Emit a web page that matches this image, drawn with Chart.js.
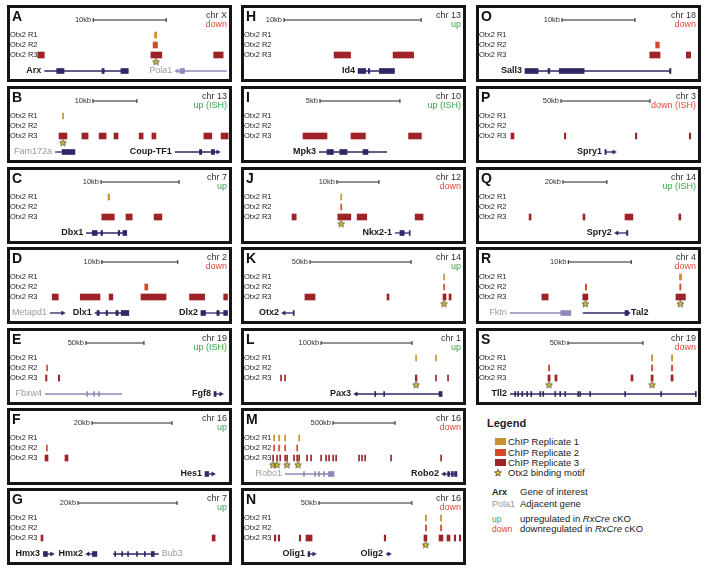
<!DOCTYPE html>
<html>
<head>
<meta charset="utf-8">
<script src="https://cdn.jsdelivr.net/npm/chart.js@4.4.1/dist/chart.umd.min.js"></script>
<style>
  body { margin: 0; background: #fff; width: 708px; height: 573px; position: relative; overflow: hidden;
         font-family: 'Liberation Sans', Arial, sans-serif; }
  .panel { position: absolute; width: 225px; height: 77px; border: 3px solid #151515; box-sizing: border-box; }
  .panel canvas { display: block; }
  .lg { position: absolute; white-space: nowrap; font-size: 9.5px; line-height: 12px; color: #222; }
  .sw { position: absolute; width: 11px; height: 7px; }
</style>
</head>
<body>

<div class="lg" style="left:487px;top:416px;font-size:11px;font-weight:bold;line-height:14px">Legend</div>
<div class="sw" style="left:495px;top:438px;background:#c8922e"></div>
<div class="lg" style="left:508px;top:436px">ChIP Replicate 1</div>
<div class="sw" style="left:495px;top:449px;background:#d4482b"></div>
<div class="lg" style="left:508px;top:447px">ChIP Replicate 2</div>
<div class="sw" style="left:495px;top:459px;background:#9f2227"></div>
<div class="lg" style="left:508px;top:457px">ChIP Replicate 3</div>
<svg style="position:absolute;left:494px;top:469px" width="8" height="8" viewBox="-4 -4 8 8">
  <polygon points="0,-3.6 0.88,-1.21 3.42,-1.11 1.43,0.46 2.12,2.91 0,1.5 -2.12,2.91 -1.43,0.46 -3.42,-1.11 -0.88,-1.21"
           fill="#e6d03c" stroke="#4a4020" stroke-width="0.8"/>
</svg>
<div class="lg" style="left:508px;top:467px">Otx2 binding motif</div>
<div class="lg" style="left:492px;top:486px;font-weight:bold;font-size:9px">Arx</div>
<div class="lg" style="left:520px;top:486px">Gene of interest</div>
<div class="lg" style="left:492px;top:498px;font-size:9px;color:#999">Pola1</div>
<div class="lg" style="left:520px;top:498px">Adjacent gene</div>
<div class="lg" style="left:492px;top:513px;font-size:8.5px;color:#3aa64a">up</div>
<div class="lg" style="left:520px;top:513px">upregulated in <i>RxCre</i> cKO</div>
<div class="lg" style="left:492px;top:523px;font-size:8.5px;color:#e5493a">down</div>
<div class="lg" style="left:520px;top:523px">downregulated in <i>RxCre</i> cKO</div>

<script>
// positions in kb from the left edge of each window; scale = [start, length]
// genes: [name, start, end, kind, label side, strand]; exons: [start, end, gene index]
var A_SCALE = [7.7, 10];
var A_R1 = [[16.1, 16.4]];
var A_R2 = [[15.9, 16.5]];
var A_R3 = [[0.1, 1.0], [15.6, 17.1], [24.2, 25.5]];
var A_MOTIF = [16.3];
var A_GENES = [['Arx', 1.0, 12.5, 'main', 'l', 0], ['Pola1', 19.2, 26.0, 'adjl', 'l', -1]];
var A_EXONS = [[2.7, 3.7, 0], [8.9, 9.2, 0], [11.5, 12.5, 0], [19.6, 20.2, 1]];

var B_SCALE = [12.7, 10];
var B_R1 = [[5.8, 6.0]];
var B_R2 = [];
var B_R3 = [[5.0, 6.8], [10.2, 11.6], [14.1, 15.7], [17.5, 18.4], [23.2, 24.1], [26.1, 27.0], [37.9, 39.7], [41.8, 43.4]];
var B_MOTIF = [5.9];
var B_GENES = [['Fam172a', 4.1, 8.6, 'adj', 'l', 0], ['Coup-TF1', 31.3, 41.1, 'main', 'l', 1]];
var B_EXONS = [[5.7, 8.6, 0], [36.9, 37.4, 1], [39.6, 40.3, 1]];

var C_SCALE = [8.2, 10];
var C_R1 = [[9.1, 9.3]];
var C_R2 = [];
var C_R3 = [[8.3, 9.9], [11.4, 12.2], [15.0, 16.0]];
var C_MOTIF = [];
var C_GENES = [['Dbx1', 6.3, 11.5, 'main', 'l', 0]];
var C_EXONS = [[7.1, 7.7, 0], [8.2, 8.4, 0], [10.4, 10.6, 0], [11.0, 11.5, 0]];

var D_SCALE = [8.55, 10];
var D_R1 = [];
var D_R2 = [[14.2, 14.6]];
var D_R3 = [[2.0, 2.8], [5.7, 8.3], [9.5, 10.0], [13.7, 17.0], [20.1, 22.1], [24.6, 25.1]];
var D_MOTIF = [];
var D_GENES = [['Metapd1', 1.7, 3.4, 'adj', 'l', 1], ['Dlx1', 7.6, 12.1, 'main', 'l', 0], ['Dlx2', 21.6, 25.1, 'main', 'l', 0]];
var D_EXONS = [[7.9, 8.2, 1], [9.1, 9.3, 1], [10.4, 10.7, 1], [11.1, 12.1, 1], [21.6, 22.2, 2], [23.7, 24.0, 2], [24.6, 25.1, 2]];

var E_SCALE = [42.2, 50];
var E_R1 = [];
var E_R2 = [[8.3, 9.0]];
var E_R3 = [[7.4, 8.6], [18.4, 19.6]];
var E_MOTIF = [];
var E_GENES = [['Fbxw4', 6.9, 73.3, 'adjl', 'l', 0], ['Fgf8', 152.6, 158.6, 'main', 'l', 1]];
var E_EXONS = [[42.8, 43.5, 0], [48.8, 49.5, 0], [53.1, 53.8, 0], [152.6, 154.4, 1]];

var F_SCALE = [13.75, 20];
var F_R1 = [];
var F_R2 = [[2.35, 2.6]];
var F_R3 = [[2.0, 2.75], [7.0, 7.75]];
var F_MOTIF = [];
var F_GENES = [['Hes1', 42.0, 44.0, 'main', 'l', 1]];
var F_EXONS = [[42.0, 42.9, 0]];

var G_SCALE = [8.3, 20];
var G_R1 = [];
var G_R2 = [];
var G_R3 = [[0.8, 1.2], [35.4, 36.0]];
var G_MOTIF = [];
var G_GENES = [['Hmx3', 1.2, 3.0, 'main', 'l', 1], ['Hmx2', 10.3, 12.1, 'main', 'l', -1], ['Bub3', 15.4, 24.6, 'adj', 'r', 0]];
var G_EXONS = [[1.3, 2.1, 0], [11.2, 12.1, 1], [15.7, 15.9, 2], [17.1, 17.3, 2], [18.3, 18.5, 2], [20.1, 20.3, 2], [21.7, 21.9, 2], [23.1, 23.7, 2]];

var H_SCALE = [0.95, 10];
var H_R1 = [];
var H_R2 = [];
var H_R3 = [[4.6, 5.8], [8.9, 10.4]];
var H_MOTIF = [];
var H_GENES = [['Id4', 6.35, 9.0, 'main', 'l', 0]];
var H_EXONS = [[6.35, 6.9, 0], [7.1, 7.2, 0], [7.9, 9.0, 0]];

var I_SCALE = [3.06, 5];
var I_R1 = [];
var I_R2 = [];
var I_R3 = [[2.0, 3.5], [5.0, 5.9], [8.6, 9.4]];
var I_MOTIF = [];
var I_GENES = [['Mpk3', 3.0, 7.25, 'main', 'l', 0]];
var I_EXONS = [[3.5, 3.9, 0], [4.3, 4.75, 0], [5.75, 6.06, 0]];

var J_SCALE = [15.7, 10];
var J_R1 = [[16.6, 16.8]];
var J_R2 = [[16.6, 16.8]];
var J_R3 = [[5.0, 6.0], [15.9, 19.0], [20.5, 22.8], [34.3, 36.2]];
var J_MOTIF = [16.7];
var J_GENES = [['Nkx2-1', 29.5, 33.1, 'main', 'l', 0]];
var J_EXONS = [[30.7, 31.7, 0], [32.9, 33.1, 0]];

var K_SCALE = [19.3, 50];
var K_R1 = [[85.4, 85.8]];
var K_R2 = [[85.4, 85.8]];
var K_R3 = [[16.8, 21.8], [57.4, 58.4], [85.1, 86.6], [88.1, 89.1]];
var K_MOTIF = [85.6];
var K_GENES = [['Otx2', 6.4, 11.4, 'main', 'l', -1]];
var K_EXONS = [[11.0, 11.4, 0]];

var L_SCALE = [55, 100];
var L_R1 = [[158.9, 159.9], [180.8, 181.8]];
var L_R2 = [];
var L_R3 = [[10.5, 11.5], [14.9, 15.9], [158.6, 160.4], [180.8, 181.8], [194, 195]];
var L_MOTIF = [159.4];
var L_GENES = [['Pax3', 93.4, 188, 'main', 'l', -1]];
var L_EXONS = [[114, 114.8, 0], [123.8, 124.6, 0], [184.6, 188, 0]];

var M_SCALE = [500, 500];
var M_R1 = [[21, 27], [61, 67], [110, 116], [223, 229]];
var M_R2 = [[21, 27], [61, 67], [110, 116], [207, 213]];
var M_R3 = [[13, 19], [45, 51], [70, 76], [110, 116], [126, 132], [182, 188], [207, 213], [223, 229], [287, 293], [319, 325],
            [400, 406], [440, 446], [464, 470], [497, 503], [521, 527], [706, 712], [730, 736], [755, 761], [964, 970], [1367, 1373]];
var M_MOTIF = [16, 48, 129, 218];
var M_GENES = [['Robo1', 113, 508, 'adjl', 'l', 0], ['Robo2', 1394, 1499, 'main', 'l', -1]];
var M_EXONS = [[262, 270, 0], [351, 359, 0], [383, 391, 0], [423, 431, 0], [463, 508, 0], [1425, 1440, 1], [1455, 1470, 1], [1480, 1499, 1]];

var N_SCALE = [25.8, 50];
var N_R1 = [[83.1, 83.7], [91.2, 91.8]];
var N_R2 = [[83.1, 83.7], [91.2, 91.8]];
var N_R3 = [[1.8, 2.6], [3.9, 4.7], [15.2, 16.0], [18.8, 22.1], [60.9, 61.7], [82.3, 83.9], [90.4, 92.5], [94.7, 96.3], [98.6, 99.4], [101.3, 102.1]];
var N_MOTIF = [83.2];
var N_GENES = [['Olig1', 19.9, 23.1, 'main', 'l', 1], ['Olig2', 61.9, 63.5, 'main', 'l', 1]];
var N_EXONS = [[19.9, 20.8, 0]];

var O_SCALE = [7.67, 10];
var O_R1 = [];
var O_R2 = [[20.5, 21.0]];
var O_R3 = [[19.7, 21.1], [24.7, 25.3]];
var O_MOTIF = [];
var O_GENES = [['Sall3', 2.6, 22.5, 'main', 'l', 0]];
var O_EXONS = [[2.6, 4.4, 0], [5.75, 6.0, 0], [7.3, 10.7, 0], [22.4, 22.6, 0]];

var P_SCALE = [30.9, 50];
var P_R1 = [];
var P_R2 = [];
var P_R3 = [[2.8, 4.5], [32.8, 33.6], [72.7, 73.5], [103.0, 103.8]];
var P_MOTIF = [];
var P_GENES = [['Spry1', 55.6, 60.7, 'main', 'l', 1]];
var P_EXONS = [[55.6, 56.3, 0]];

var Q_SCALE = [25.9, 20];
var Q_R1 = [];
var Q_R2 = [];
var Q_R3 = [[10.5, 11.4], [35.0, 35.9], [54.1, 57.7], [78.6, 79.5]];
var Q_MOTIF = [];
var Q_GENES = [['Spry2', 50.4, 55.4, 'main', 'l', -1]];
var Q_EXONS = [[54.8, 55.4, 0]];

var R_SCALE = [9.9, 10];
var R_R1 = [[27.55, 27.9]];
var R_R2 = [[12.6, 12.8], [27.6, 27.8]];
var R_R3 = [[5.7, 6.7], [12.2, 13.0], [27.0, 28.5]];
var R_MOTIF = [12.6, 27.7];
var R_GENES = [['Fktn', 0.6, 10.3, 'adjl', 'l', 0], ['Tal2', 12.2, 19.4, 'main', 'r', 1]];
var R_EXONS = [[8.7, 10.3, 0], [18.9, 19.4, 1]];

var S_SCALE = [41.3, 50];
var S_R1 = [[97.0, 97.8], [110.3, 111.1]];
var S_R2 = [[28.3, 29.1], [97.0, 97.8], [110.3, 111.1]];
var S_R3 = [[28.0, 29.4], [32.6, 34.0], [83.3, 84.7], [96.7, 98.1], [110.0, 111.4]];
var S_MOTIF = [28.7, 97.4];
var S_GENES = [['Tll2', 2.7, 126.7, 'main', 'l', 0]];
var S_EXONS = [[5.8, 6.3, 0], [7.8, 8.3, 0], [10.5, 11.0, 0], [13.8, 14.3, 0], [16.5, 17.0, 0], [22.5, 23.0, 0], [24.5, 25.0, 0],
               [32.5, 33.0, 0], [35.8, 36.3, 0], [39.1, 39.6, 0], [47.8, 48.3, 0], [49.1, 49.6, 0], [55.8, 56.3, 0],
               [79.1, 79.6, 0], [103.1, 103.6, 0], [126.2, 126.7, 0]];

var ROW_LABELS = ['Otx2 R1', 'Otx2 R2', 'Otx2 R3'];

// panel meta: column / row slot, header texts, window width in kb
var PANELS = [
  { id: 'A', col: 0, row: 0, chr: 'chr X', dir: 'down', span: 26.3, scale: A_SCALE, reps: [A_R1, A_R2, A_R3], motif: A_MOTIF, genes: A_GENES, exons: A_EXONS },
  { id: 'B', col: 0, row: 1, chr: 'chr 13', dir: 'up (ISH)', span: 43.6, scale: B_SCALE, reps: [B_R1, B_R2, B_R3], motif: B_MOTIF, genes: B_GENES, exons: B_EXONS },
  { id: 'C', col: 0, row: 2, chr: 'chr 7', dir: 'up', span: 24.6, scale: C_SCALE, reps: [C_R1, C_R2, C_R3], motif: C_MOTIF, genes: C_GENES, exons: C_EXONS },
  { id: 'D', col: 0, row: 3, chr: 'chr 2', dir: 'down', span: 25.3, scale: D_SCALE, reps: [D_R1, D_R2, D_R3], motif: D_MOTIF, genes: D_GENES, exons: D_EXONS },
  { id: 'E', col: 0, row: 4, chr: 'chr 19', dir: 'up (ISH)', span: 165.5, scale: E_SCALE, reps: [E_R1, E_R2, E_R3], motif: E_MOTIF, genes: E_GENES, exons: E_EXONS },
  { id: 'F', col: 0, row: 5, chr: 'chr 16', dir: 'up', span: 48, scale: F_SCALE, reps: [F_R1, F_R2, F_R3], motif: F_MOTIF, genes: F_GENES, exons: F_EXONS },
  { id: 'G', col: 0, row: 6, chr: 'chr 7', dir: 'up', span: 38.8, scale: G_SCALE, reps: [G_R1, G_R2, G_R3], motif: G_MOTIF, genes: G_GENES, exons: G_EXONS },
  { id: 'H', col: 1, row: 0, chr: 'chr 13', dir: 'up', span: 14.0, scale: H_SCALE, reps: [H_R1, H_R2, H_R3], motif: H_MOTIF, genes: H_GENES, exons: H_EXONS },
  { id: 'I', col: 1, row: 1, chr: 'chr 10', dir: 'up (ISH)', span: 12.0, scale: I_SCALE, reps: [I_R1, I_R2, I_R3], motif: I_MOTIF, genes: I_GENES, exons: I_EXONS },
  { id: 'J', col: 1, row: 2, chr: 'chr 12', dir: 'down', span: 45.7, scale: J_SCALE, reps: [J_R1, J_R2, J_R3], motif: J_MOTIF, genes: J_GENES, exons: J_EXONS },
  { id: 'K', col: 1, row: 3, chr: 'chr 14', dir: 'up', span: 95, scale: K_SCALE, reps: [K_R1, K_R2, K_R3], motif: K_MOTIF, genes: K_GENES, exons: K_EXONS },
  { id: 'L', col: 1, row: 4, chr: 'chr 1', dir: 'up', span: 211, scale: L_SCALE, reps: [L_R1, L_R2, L_R3], motif: L_MOTIF, genes: L_GENES, exons: L_EXONS },
  { id: 'M', col: 1, row: 5, chr: 'chr 16', dir: 'down', span: 1548, scale: M_SCALE, reps: [M_R1, M_R2, M_R3], motif: M_MOTIF, genes: M_GENES, exons: M_EXONS },
  { id: 'N', col: 1, row: 6, chr: 'chr 16', dir: 'down', span: 103.3, scale: N_SCALE, reps: [N_R1, N_R2, N_R3], motif: N_MOTIF, genes: N_GENES, exons: N_EXONS },
  { id: 'O', col: 2, row: 0, chr: 'chr 18', dir: 'down', span: 26.3, scale: O_SCALE, reps: [O_R1, O_R2, O_R3], motif: O_MOTIF, genes: O_GENES, exons: O_EXONS },
  { id: 'P', col: 2, row: 1, chr: 'chr 3', dir: 'down (ISH)', span: 107.9, scale: P_SCALE, reps: [P_R1, P_R2, P_R3], motif: P_MOTIF, genes: P_GENES, exons: P_EXONS },
  { id: 'Q', col: 2, row: 2, chr: 'chr 14', dir: 'up (ISH)', span: 87.3, scale: Q_SCALE, reps: [Q_R1, Q_R2, Q_R3], motif: Q_MOTIF, genes: Q_GENES, exons: Q_EXONS },
  { id: 'R', col: 2, row: 3, chr: 'chr 4', dir: 'down', span: 30.5, scale: R_SCALE, reps: [R_R1, R_R2, R_R3], motif: R_MOTIF, genes: R_GENES, exons: R_EXONS },
  { id: 'S', col: 2, row: 4, chr: 'chr 19', dir: 'down', span: 128, scale: S_SCALE, reps: [S_R1, S_R2, S_R3], motif: S_MOTIF, genes: S_GENES, exons: S_EXONS }
];

(function () {
  'use strict';

  var FONT = "'Liberation Sans', Arial, sans-serif";
  var COL_X = [7, 241, 476];
  var ROW_Y = [5, 86, 167, 247, 328, 408, 488];
  var PW = 225, PH = 77, AXIS_W = 27;
  // track rows on the y axis (10px per unit, reversed)
  var ROW = { scale: -0.5, motif: 3.7, gene: 4.6 };
  var REP_COLORS = ['#c8922e', '#d4482b', '#9f2227'];
  var GENE_DARK = '#2d2866', GENE_LIGHT = '#8e89b8';
  var UP = '#3aa64a', DOWN = '#e5493a';

  Chart.defaults.font.family = FONT;

  // yellow star used as the motif point style
  var STAR = document.createElement('canvas');
  STAR.width = 9; STAR.height = 9;
  (function () {
    var c = STAR.getContext('2d');
    c.translate(4.5, 4.5);
    c.beginPath();
    for (var k = 0; k < 10; k++) {
      var a = (-90 + 36 * k) * Math.PI / 180, r = k % 2 ? 1.5 : 3.6;
      if (k === 0) c.moveTo(r * Math.cos(a), r * Math.sin(a));
      else c.lineTo(r * Math.cos(a), r * Math.sin(a));
    }
    c.closePath();
    c.fillStyle = '#e6d03c';
    c.fill();
    c.lineWidth = 0.8;
    c.strokeStyle = '#4a4020';
    c.stroke();
  })();

  function lineColor(g) { return g[3] === 'adjl' ? GENE_LIGHT : GENE_DARK; }

  function textPlugin(p) {
    return {
      id: 'panelText',
      afterDatasetsDraw: function (chart) {
        var ctx = chart.ctx, xs = chart.scales.x, ys = chart.scales.y;
        var w = chart.width;
        ctx.save();
        ctx.textBaseline = 'middle';
        ctx.fillStyle = '#111';
        ctx.textAlign = 'left';
        ctx.font = 'bold 14px ' + FONT;
        ctx.fillText(p.id, 2, 9);

        ctx.textAlign = 'right';
        ctx.font = '9px ' + FONT;
        ctx.fillStyle = '#333';
        ctx.fillText(p.chr, w - 2, 8);
        ctx.fillStyle = p.dir.indexOf('up') === 0 ? UP : DOWN;
        ctx.fillText(p.dir, w - 2, 17);

        ctx.font = '7.5px ' + FONT;
        ctx.fillStyle = '#333';
        ctx.fillText(p.scale[1] + 'kb', xs.getPixelForValue(p.scale[0]) - 2, ys.getPixelForValue(ROW.scale));

        var gy = ys.getPixelForValue(ROW.gene);
        p.genes.forEach(function (g) {
          ctx.font = (g[3] === 'main' ? 'bold ' : '') + '9px ' + FONT;
          ctx.fillStyle = g[3] === 'main' ? '#1a1a1a' : '#9a9a9a';
          if (g[4] === 'r') {
            ctx.textAlign = 'left';
            ctx.fillText(g[0], xs.getPixelForValue(g[2]) + 3, gy);
          } else {
            ctx.textAlign = 'right';
            ctx.fillText(g[0], xs.getPixelForValue(g[1]) - (g[5] < 0 ? 5 : 3), gy);
          }
        });
        ctx.restore();
      }
    };
  }

  function buildPanel(p) {
    var box = document.createElement('div');
    box.className = 'panel';
    box.style.left = COL_X[p.col] + 'px';
    box.style.top = ROW_Y[p.row] + 'px';
    var cv = document.createElement('canvas');
    cv.width = PW - 6;
    cv.height = PH - 6;
    box.appendChild(cv);
    document.body.appendChild(box);

    var ds = [];

    // ChIP peaks, one row per replicate
    p.reps.forEach(function (list, i) {
      ds.push({
        type: 'bar', indexAxis: 'y', grouped: false, clip: false,
        data: list.map(function (b) { return { x: [b[0], b[1]], y: i + 1 }; }),
        backgroundColor: REP_COLORS[i], borderWidth: 0,
        barThickness: 6, minBarLength: 1
      });
    });

    ds.push({
      type: 'scatter', clip: false,
      data: p.motif.map(function (x) { return { x: x, y: ROW.motif }; }),
      pointStyle: STAR, pointRadius: 4
    });

    // scale bar
    ds.push({
      type: 'line', clip: false,
      data: [{ x: p.scale[0], y: ROW.scale }, { x: p.scale[0] + p.scale[1], y: ROW.scale }],
      borderColor: '#222', borderWidth: 1,
      pointStyle: 'line', pointRotation: 90, pointRadius: 2, pointBorderWidth: 1, pointBorderColor: '#222'
    });

    // exons
    ds.push({
      type: 'bar', indexAxis: 'y', grouped: false, clip: false,
      data: p.exons.map(function (e) { return { x: [e[0], e[1]], y: ROW.gene }; }),
      backgroundColor: p.exons.map(function (e) { return lineColor(p.genes[e[2]]); }),
      borderWidth: 0, barThickness: 5, minBarLength: 1
    });

    // strand arrows
    var arrows = p.genes.filter(function (g) { return g[5] !== 0; });
    ds.push({
      type: 'scatter', clip: false,
      data: arrows.map(function (g) { return { x: g[5] > 0 ? g[2] : g[1], y: ROW.gene }; }),
      pointStyle: 'triangle', pointRadius: 2.4,
      pointRotation: arrows.map(function (g) { return g[5] > 0 ? 90 : -90; }),
      backgroundColor: arrows.map(lineColor), borderColor: arrows.map(lineColor), borderWidth: 0.5
    });

    // gene bodies
    p.genes.forEach(function (g) {
      ds.push({
        type: 'line', clip: false,
        data: [{ x: g[1], y: ROW.gene }, { x: g[2], y: ROW.gene }],
        borderColor: lineColor(g), borderWidth: 1.3, pointRadius: 0
      });
    });

    new Chart(cv, {
      type: 'scatter',
      data: { datasets: ds },
      plugins: [textPlugin(p)],
      options: {
        responsive: false,
        animation: false,
        events: [],
        layout: { padding: 0, autoPadding: false },
        plugins: { legend: { display: false }, tooltip: { enabled: false } },
        scales: {
          x: { type: 'linear', min: 0, max: p.span, display: false, offset: false, grid: { offset: false } },
          y: {
            type: 'linear', min: -1.7, max: 5.4, reverse: true, offset: false,
            grid: { display: false, offset: false }, border: { display: false },
            afterBuildTicks: function (s) { s.ticks = [{ value: 1 }, { value: 2 }, { value: 3 }]; },
            afterFit: function (s) { s.width = AXIS_W; s.paddingTop = 0; s.paddingBottom = 0; },
            ticks: {
              autoSkip: false, padding: 0, crossAlign: 'far', color: '#1e1e1e',
              font: { size: 7.5 },
              callback: function (v) { return ROW_LABELS[v - 1]; }
            }
          }
        }
      }
    });
  }

  PANELS.forEach(buildPanel);
})();
</script>
</body>
</html>
